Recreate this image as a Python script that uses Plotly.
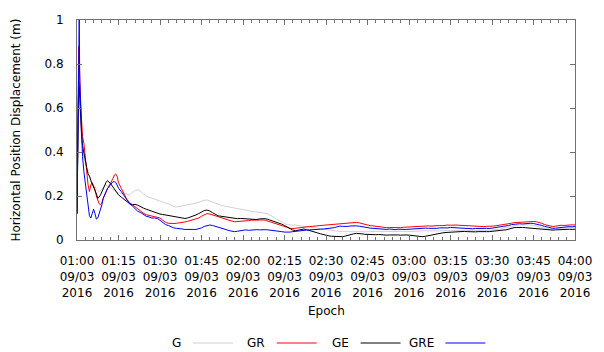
import plotly.graph_objects as go

# ---- data (minutes after 01:00, 09/03/2016) ----
t_early = [0, 0.3, 0.6, 0.8, 1.0, 1.3, 1.6, 2.0, 2.5, 3.0, 3.5, 4.0, 4.5, 5.0, 5.5, 6.0, 6.5, 7.0,
           7.5, 8.0, 8.5, 9.0, 9.5, 10, 10.5, 11, 11.5, 12, 12.5, 13, 13.5, 14, 14.5]
t_late = list(range(15, 181))
minutes = t_early + t_late

g_vals = [0.12, 0.50, 0.70, 0.68, 0.62, 0.54, 0.47, 0.41, 0.37, 0.345, 0.33, 0.31, 0.29, 0.27, 0.26, 0.25, 0.24, 0.23,
          0.225, 0.22, 0.225, 0.23, 0.24, 0.245, 0.25, 0.245, 0.24, 0.235, 0.23, 0.228, 0.225, 0.22, 0.215,
          0.215, 0.21, 0.215, 0.21, 0.205, 0.215, 0.225, 0.228, 0.222, 0.21,
          0.2, 0.195, 0.19, 0.188, 0.183, 0.178, 0.172, 0.168, 0.165, 0.158,
          0.152, 0.15, 0.152, 0.156, 0.158, 0.16, 0.162, 0.165, 0.168, 0.172,
          0.178, 0.18, 0.182, 0.178, 0.172, 0.168, 0.163, 0.158, 0.154, 0.152,
          0.15, 0.148, 0.145, 0.142, 0.14, 0.137, 0.135, 0.133, 0.13, 0.129,
          0.128, 0.126, 0.124, 0.122, 0.118, 0.112, 0.104, 0.096, 0.088, 0.08,
          0.075, 0.07, 0.068, 0.067, 0.068, 0.066, 0.065, 0.064, 0.062, 0.061,
          0.058, 0.056, 0.054, 0.053, 0.05, 0.048, 0.046, 0.044, 0.042, 0.04,
          0.039, 0.038, 0.038, 0.039, 0.04, 0.041, 0.04, 0.039, 0.038, 0.037,
          0.038, 0.037, 0.038, 0.039, 0.038, 0.037, 0.038, 0.039, 0.038, 0.037,
          0.038, 0.039, 0.04, 0.039, 0.038, 0.039, 0.04, 0.041, 0.04, 0.042,
          0.041, 0.042, 0.041, 0.043, 0.042, 0.041, 0.042, 0.043, 0.042, 0.043,
          0.044, 0.043, 0.044, 0.043, 0.042, 0.043, 0.042, 0.043, 0.044, 0.043,
          0.042, 0.043, 0.044, 0.043, 0.044, 0.045, 0.046, 0.048, 0.05, 0.053,
          0.056, 0.06, 0.064, 0.066, 0.067, 0.068, 0.069, 0.07, 0.069, 0.068,
          0.067, 0.064, 0.06, 0.056, 0.052, 0.05, 0.049, 0.05, 0.052, 0.054,
          0.055, 0.054, 0.055, 0.056, 0.055, 0.056]

gr_vals = [0.12, 0.68, 0.88, 0.82, 0.72, 0.63, 0.56, 0.47, 0.44, 0.37, 0.30, 0.25, 0.22, 0.25, 0.26, 0.245, 0.23, 0.20,
           0.18, 0.165, 0.16, 0.17, 0.19, 0.205, 0.215, 0.23, 0.245, 0.255, 0.265, 0.28, 0.295, 0.30, 0.29,
           0.26, 0.235, 0.21, 0.185, 0.17, 0.16, 0.15, 0.138, 0.13, 0.122,
           0.115, 0.112, 0.11, 0.108, 0.105, 0.10, 0.09, 0.08, 0.076, 0.074,
           0.075, 0.076, 0.077, 0.08, 0.082, 0.085, 0.088, 0.092, 0.097, 0.10,
           0.108, 0.115, 0.12, 0.118, 0.114, 0.108, 0.104, 0.10, 0.095, 0.092,
           0.088, 0.086, 0.083, 0.084, 0.082, 0.083, 0.085, 0.088, 0.09, 0.091,
           0.09, 0.092, 0.091, 0.09, 0.086, 0.082, 0.078, 0.074, 0.068, 0.064,
           0.06, 0.056, 0.053, 0.052, 0.054, 0.056, 0.058, 0.059, 0.06, 0.061,
           0.062, 0.064, 0.065, 0.066, 0.067, 0.068, 0.069, 0.07, 0.072, 0.074,
           0.076, 0.077, 0.076, 0.078, 0.08, 0.079, 0.08, 0.078, 0.074, 0.07,
           0.067, 0.065, 0.064, 0.062, 0.06, 0.058, 0.057, 0.056, 0.057, 0.056,
           0.055, 0.057, 0.056, 0.058, 0.057, 0.059, 0.06, 0.061, 0.06, 0.062,
           0.061, 0.063, 0.064, 0.063, 0.065, 0.064, 0.066, 0.065, 0.067, 0.068,
           0.067, 0.069, 0.068, 0.067, 0.066, 0.065, 0.066, 0.064, 0.063, 0.062,
           0.063, 0.062, 0.061, 0.062, 0.061, 0.063, 0.064, 0.066, 0.065, 0.067,
           0.069, 0.072, 0.076, 0.079, 0.08, 0.081, 0.082, 0.084, 0.083, 0.085,
           0.084, 0.083, 0.08, 0.076, 0.07, 0.066, 0.062, 0.061, 0.063, 0.066,
           0.067, 0.066, 0.068, 0.067, 0.069, 0.068]

ge_vals = [0.12, 0.55, 0.72, 0.70, 0.64, 0.56, 0.49, 0.43, 0.39, 0.36, 0.33, 0.30, 0.29, 0.27, 0.255, 0.245, 0.23, 0.21,
           0.19, 0.195, 0.205, 0.22, 0.235, 0.25, 0.262, 0.27, 0.265, 0.258, 0.25, 0.24, 0.232, 0.225, 0.215,
           0.205, 0.195, 0.185, 0.172, 0.165, 0.16, 0.162, 0.158, 0.15, 0.145,
           0.14, 0.135, 0.13, 0.125, 0.12, 0.118, 0.116, 0.114, 0.112, 0.11,
           0.108, 0.106, 0.104, 0.1, 0.098, 0.1, 0.104, 0.108, 0.114, 0.12,
           0.128, 0.134, 0.136, 0.132, 0.124, 0.116, 0.11, 0.108, 0.106, 0.106,
           0.104, 0.1, 0.098, 0.097, 0.098, 0.097, 0.096, 0.094, 0.092, 0.091,
           0.093, 0.096, 0.098, 0.097, 0.094, 0.09, 0.085, 0.082, 0.078, 0.072,
           0.066, 0.058, 0.05, 0.045, 0.042, 0.045, 0.048, 0.05, 0.047, 0.044,
           0.04, 0.036, 0.032, 0.028, 0.024, 0.021, 0.019, 0.017, 0.016, 0.015,
           0.016, 0.015, 0.018, 0.022, 0.026, 0.028, 0.03, 0.03, 0.028, 0.026,
           0.025, 0.024, 0.023, 0.024, 0.025, 0.023, 0.024, 0.022, 0.023, 0.024,
           0.022, 0.023, 0.022, 0.024, 0.023, 0.022, 0.02, 0.019, 0.017, 0.016,
           0.015, 0.017, 0.02, 0.023, 0.026, 0.028, 0.03, 0.032, 0.034, 0.035,
           0.036, 0.037, 0.038, 0.037, 0.038, 0.039, 0.038, 0.037, 0.038, 0.037,
           0.038, 0.037, 0.039, 0.038, 0.038, 0.04, 0.041, 0.042, 0.044, 0.045,
           0.046, 0.05, 0.053, 0.056, 0.057, 0.058, 0.057, 0.056, 0.055, 0.054,
           0.053, 0.052, 0.05, 0.048, 0.046, 0.045, 0.044, 0.045, 0.046, 0.047,
           0.048, 0.047, 0.048, 0.049, 0.048, 0.049]

gre_vals = [0.12, 0.55, 0.92, 1.0, 0.72, 0.58, 0.47, 0.38, 0.31, 0.25, 0.21, 0.16, 0.11, 0.10, 0.12, 0.14, 0.12, 0.095,
            0.10, 0.12, 0.135, 0.16, 0.19, 0.21, 0.22, 0.235, 0.24, 0.25, 0.258, 0.265, 0.265, 0.262, 0.25,
            0.235, 0.22, 0.20, 0.18, 0.165, 0.155, 0.14, 0.13, 0.125, 0.115,
            0.108, 0.105, 0.10, 0.10, 0.098, 0.09, 0.08, 0.07, 0.066, 0.06,
            0.055, 0.053, 0.05, 0.05, 0.048, 0.049, 0.047, 0.048, 0.048, 0.05,
            0.055, 0.062, 0.066, 0.068, 0.066, 0.062, 0.058, 0.053, 0.048, 0.045,
            0.043, 0.04, 0.038, 0.04, 0.042, 0.045, 0.046, 0.044, 0.046, 0.045,
            0.047, 0.046, 0.048, 0.047, 0.046, 0.045, 0.044, 0.043, 0.04, 0.038,
            0.036, 0.035, 0.036, 0.038, 0.04, 0.042, 0.043, 0.044, 0.045, 0.046,
            0.046, 0.048, 0.047, 0.049, 0.05, 0.051, 0.052, 0.053, 0.056, 0.06,
            0.063, 0.062, 0.061, 0.062, 0.064, 0.065, 0.064, 0.063, 0.06, 0.058,
            0.056, 0.054, 0.053, 0.052, 0.05, 0.049, 0.048, 0.048, 0.05, 0.048,
            0.047, 0.049, 0.048, 0.05, 0.048, 0.049, 0.05, 0.052, 0.051, 0.053,
            0.052, 0.054, 0.053, 0.052, 0.054, 0.053, 0.055, 0.054, 0.056, 0.055,
            0.057, 0.056, 0.056, 0.055, 0.054, 0.053, 0.054, 0.053, 0.051, 0.052,
            0.053, 0.052, 0.054, 0.053, 0.052, 0.054, 0.055, 0.056, 0.058, 0.06,
            0.062, 0.066, 0.07, 0.072, 0.073, 0.074, 0.073, 0.075, 0.074, 0.076,
            0.075, 0.073, 0.07, 0.066, 0.062, 0.058, 0.055, 0.053, 0.054, 0.056,
            0.058, 0.06, 0.059, 0.061, 0.06, 0.062]

series_names = ["G", "GR", "GE", "GRE"]
series_values = [g_vals, gr_vals, ge_vals, gre_vals]
series_colors = ["#d0d0d0", "#ff0000", "#000000", "#0000ff"]

x_tick_minutes = [0, 15, 30, 45, 60, 75, 90, 105, 120, 135, 150, 165, 180]
x_tick_times = ["01:00", "01:15", "01:30", "01:45", "02:00", "02:15", "02:30",
                "02:45", "03:00", "03:15", "03:30", "03:45", "04:00"]
x_tick_date = "09/03"
x_tick_year = "2016"
y_tick_vals = [0, 0.2, 0.4, 0.6, 0.8, 1.0]
y_tick_text = ["0", "0.2", "0.4", "0.6", "0.8", "1"]

FONT = "DejaVu Sans"

fig = go.Figure()
for name, vals, col in zip(series_names, series_values, series_colors):
    fig.add_trace(go.Scatter(x=minutes, y=vals, mode="lines", name=name,
                             line=dict(color=col, width=1), showlegend=False))

axis_common = dict(showline=True, linecolor="#707070", linewidth=1, mirror="ticks",
                   ticks="inside", tickcolor="#707070", showgrid=False, zeroline=False,
                   ticklabeloverflow="allow",
                   tickfont=dict(family=FONT, size=12, color="#000000"))

fig.update_xaxes(range=[0, 180], tickvals=x_tick_minutes,
                 ticktext=[f"{t}<br>{x_tick_date}<br>{x_tick_year}" for t in x_tick_times],
                 ticklen=5, ticklabelstandoff=10,
                 minor=dict(dtick=3, ticks="inside", ticklen=3, tickcolor="#707070"),
                 **axis_common)
fig.update_yaxes(range=[0, 1], tickvals=y_tick_vals, ticktext=y_tick_text, ticklen=5,
                 ticklabelstandoff=10, **axis_common)

# axis titles
fig.add_annotation(text="Horizontal Position Displacement (m)", xref="paper", yref="paper",
                   x=(14 - 77) / 511, y=0.5, xanchor="center", yanchor="middle",
                   textangle=-90, showarrow=False,
                   font=dict(family=FONT, size=12, color="#000000"))
fig.add_annotation(text="Epoch", xref="paper", yref="paper", x=0.5, y=(240 - 311) / 220,
                   xanchor="center", yanchor="middle", showarrow=False,
                   font=dict(family=FONT, size=12, color="#000000"))

# legend (text left of line sample, as in the reference)
legend_text_right = [186, 272, 358, 445]
leg_y = (240 - 343) / 220
for name, col, xr in zip(series_names, series_colors, legend_text_right):
    fig.add_annotation(text=name, xref="paper", yref="paper", x=(xr - 77) / 511, y=leg_y,
                       xanchor="right", yanchor="middle", showarrow=False,
                       font=dict(family=FONT, size=12, color="#000000"))
    fig.add_shape(type="line", xref="paper", yref="paper",
                  x0=(xr + 10 - 77) / 511, x1=(xr + 51 - 77) / 511, y0=leg_y, y1=leg_y,
                  line=dict(color=col, width=1))

fig.update_layout(width=604, height=352, margin=dict(l=77, r=16, t=20, b=112),
                  paper_bgcolor="white", plot_bgcolor="white",
                  font=dict(family=FONT, size=12, color="#000000"))

fig.write_html("out.html")
